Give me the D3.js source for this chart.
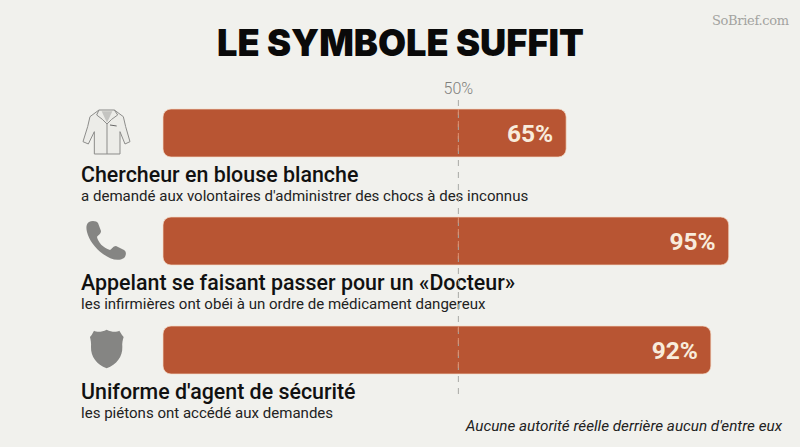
<!DOCTYPE html>
<html><head><meta charset="utf-8">
<script src="https://cdn.jsdelivr.net/npm/d3@7/dist/d3.min.js"></script>
<style>html,body{margin:0;padding:0;background:#f1f1ed}svg{display:block}text{font-family:Roboto,sans-serif}</style>
</head><body>
<svg id="c" width="800" height="447"></svg>
<script>
const categories=["Chercheur en blouse blanche","Appelant se faisant passer pour un «Docteur»","Uniforme d'agent de sécurité"];
const subtitles=["a demandé aux volontaires d'administrer des chocs à des inconnus","les infirmières ont obéi à un ordre de médicament dangereux","les piétons ont accédé aux demandes"];
const valueLabels=["65%","95%","92%"];
// bar lengths as drawn in the picture (the first bar is drawn longer than its label)
const drawnValues=[67.7,95,92];
const referenceValue=49.6;
const referenceLabel="50%";
const svg=d3.select("#c");
const x=d3.scaleLinear().domain([0,100]).range([163,758.5]);
const y=d3.scaleOrdinal().domain(categories).range([109,217,326]);
const barH=48;
svg.append("rect").attr("width",800).attr("height",447).attr("fill","#f1f1ed");
svg.append("text").attr("x",217).attr("y",56).attr("font-size",36.5).attr("font-weight",900).attr("fill","#0a0a0a").style("font-family","Inter").attr("textLength",367).attr("lengthAdjust","spacingAndGlyphs").text("LE SYMBOLE SUFFIT");
svg.append("text").attr("x",789).attr("y",25).attr("text-anchor","end").attr("font-size",13).attr("fill","#a3a3a0").style("font-family","'DejaVu Serif'").attr("textLength",77).text("SoBrief.com");
const g=svg.selectAll("g.row").data(categories).join("g").attr("class","row");
g.append("rect").attr("x",x(0)).attr("y",d=>y(d)).attr("width",(d,i)=>x(drawnValues[i])-x(0)).attr("height",barH).attr("rx",8).attr("fill","#b85533").attr("stroke","#f5dcc8").attr("stroke-width",0.7);
g.append("text").attr("x",(d,i)=>x(drawnValues[i])-13).attr("y",d=>y(d)+32.5).attr("text-anchor","end").attr("font-size",24.5).attr("font-weight",700).attr("fill","#f8ecdc").text((d,i)=>valueLabels[i]);
g.append("text").attr("x",81).attr("y",d=>y(d)+72.5).attr("font-size",21.4).attr("font-weight",500).attr("fill","#111").text(d=>d);
g.append("text").attr("x",81).attr("y",d=>y(d)+91.5).attr("font-size",15.05).attr("fill","#222").text((d,i)=>subtitles[i]);
// reference line
svg.append("line").attr("x1",x(referenceValue)).attr("x2",x(referenceValue)).attr("y1",100).attr("y2",400).attr("stroke","#a8a8a4").attr("stroke-width",1).attr("stroke-dasharray","6 6");
categories.forEach(c=>{const yy=y(c);
 svg.append("line").attr("x1",x(referenceValue)).attr("x2",x(referenceValue)).attr("y1",yy).attr("y2",yy+barH).attr("stroke","#e0906f").attr("stroke-width",1).attr("stroke-dasharray","6 6");});
svg.append("text").attr("x",x(referenceValue)).attr("y",94).attr("text-anchor","middle").attr("font-size",16).attr("font-weight",300).attr("fill","#7f7f7c").text(referenceLabel);
svg.append("text").attr("x",782).attr("y",431).attr("text-anchor","end").attr("font-size",15.25).attr("font-style","italic").attr("fill","#222").text("Aucune autorité réelle derrière aucun d'entre eux");
// icons
const coat=svg.append("g").attr("transform","translate(75,100) scale(0.3333)").attr("fill","#ecece8").attr("stroke","#8c8c8a").attr("stroke-width",3).attr("stroke-linejoin","round");
coat.append("path").attr("d","M72 30 L118 30 L145 50 L152 80 L165 125 L150 132 L135 95 L135 162 L58 162 L58 95 L40 132 L24 125 L38 80 L45 50Z");
coat.append("path").attr("d","M80 34 L96 68 L112 34Z").attr("fill","#c4c4c1").attr("stroke","none");
coat.append("path").attr("d","M72 30 L65 45 L82 58 L96 72 M118 30 L128 45 L110 58 L96 72 M96 72 L96 162").attr("fill","none");
coat.append("path").attr("d","M105 75 L125 78").attr("fill","none").attr("stroke","#666").attr("stroke-width",3);
svg.append("path").attr("transform","translate(86,221)").attr("fill","#858583").attr("d","M3 1 C6 -1 11 0 12 2 L15 10 C15 13 12 14 11 16 C12 21 17 27 24 29 C26 28 27 25 30 25 L38 29 C41 31 40 35 38 37 C32 41 24 38 17 33 C9 27 3 19 1 11 C0 7 0 3 3 1Z");
svg.append("path").attr("transform","translate(80,325) scale(0.3333)").attr("fill","#858583").attr("d","M42 17 C50 21 64 22 80 14 C96 22 110 21 118 17 L126 30 L131 36 C128 45 126 55 127 65 C128 95 110 118 80 130 C50 118 32 95 33 65 C34 55 32 45 30 36 L35 30Z");
</script>
</body></html>
